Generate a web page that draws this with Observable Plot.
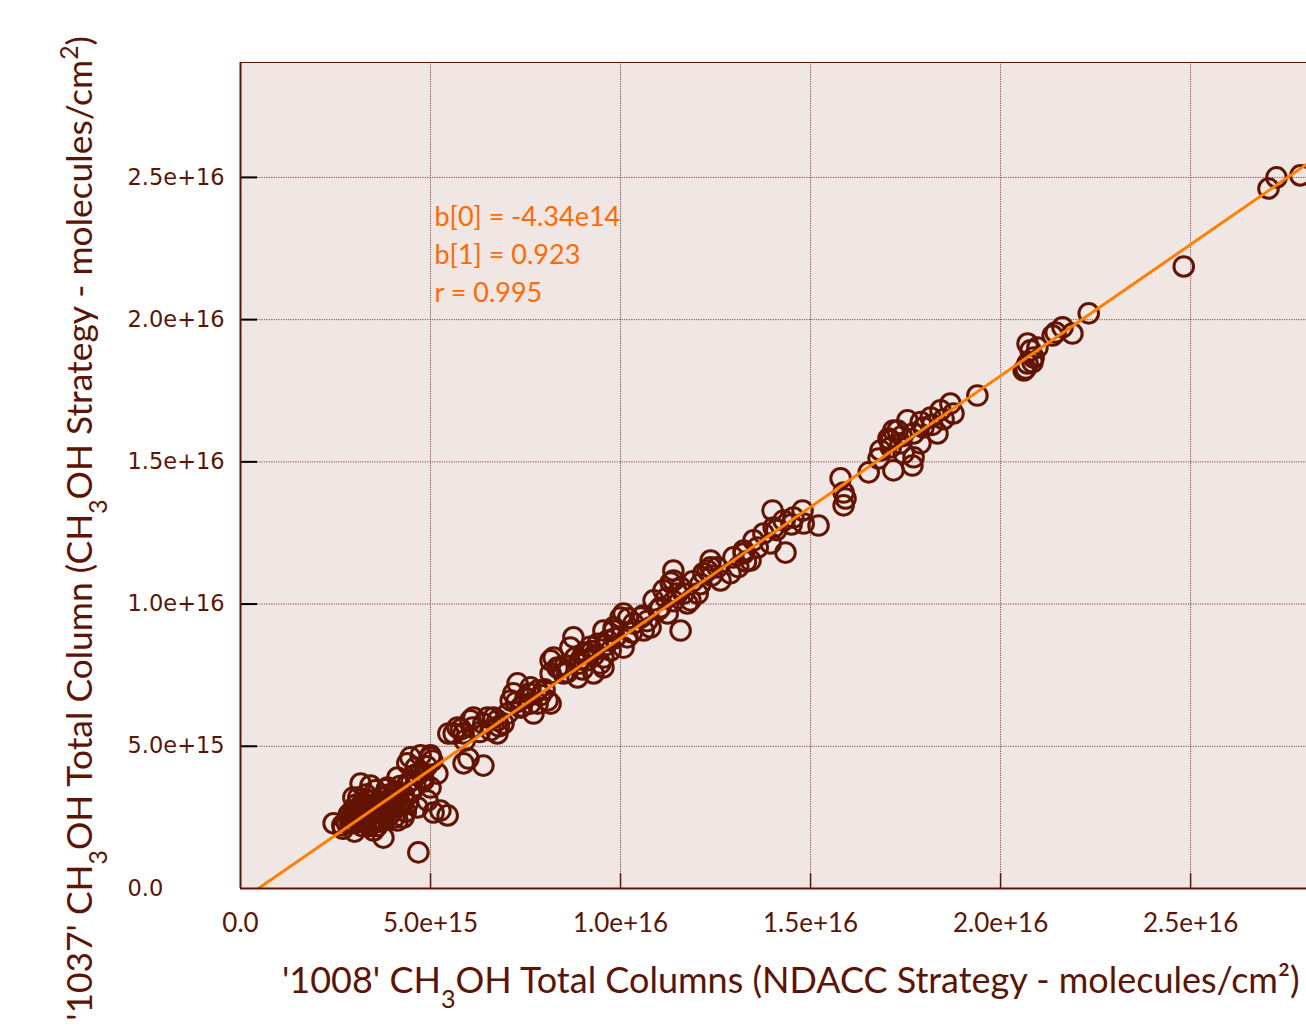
<!DOCTYPE html>
<html><head><meta charset="utf-8">
<script src="https://cdn.jsdelivr.net/npm/d3@7"></script>
<script src="https://cdn.jsdelivr.net/npm/@observablehq/plot@0.6"></script>
<style>
html,body{margin:0;padding:0;background:#fff;}
#chart{position:relative;width:1306px;height:1027px;overflow:hidden;}
#chart svg{display:block;}
</style></head><body><div id="chart"></div>
<script>
// Values in units of 1e15 molecules/cm² : [ '1008' NDACC column, '1037' CH3OH-strategy column ]
const UNIT = 1e15;
const xTicks = [0, 5e15, 1e16, 1.5e16, 2e16, 2.5e16];
const yTicks = [0, 5e15, 1e16, 1.5e16, 2e16, 2.5e16];
const xDomain = [0, 2.805e16];
const yDomain = [0, 2.904e16];
const fitB0 = -4.34e14;
const fitB1 = 0.923;
const fitLabels = ["b[0] = -4.34e14", "b[1] = 0.923", "r = 0.995"];

const lowCluster = [
 [2.45,2.29],[2.68,2.22],[3.16,3.69],[3.42,3.62],[4.13,3.90],[4.47,4.61],[4.74,4.68],[5.0,4.68],[4.61,4.25],[5.18,4.04],
 [5.0,3.55],[5.26,2.74],[5.45,2.57],[5.08,2.67],[3.76,1.79],[4.68,1.27],[2.97,3.20],[2.89,2.29],[3.61,2.85],[4.03,3.09],
 [4.29,2.50],[4.47,3.34],[4.82,3.80],[3.87,3.55],[3.34,2.50],[3.50,2.04],[4.13,2.39],[4.66,2.85],[4.92,3.09],[4.39,4.40],
 [4.74,4.08],[2.8,2.3],[2.9,2.5],[3.0,2.6],[3.0,2.3],[3.1,2.8],[3.1,2.4],[3.2,2.6],[3.2,3.0],[3.3,2.7],
 [3.3,2.3],[3.4,2.9],[3.4,2.6],[3.5,3.1],[3.5,2.7],[3.6,2.9],[3.6,2.5],[3.7,3.2],[3.7,2.8],[3.8,3.0],
 [3.8,2.6],[3.9,3.3],[3.9,2.9],[4.0,3.1],[4.0,2.7],[4.1,3.4],[4.2,3.0],[4.2,3.6],[4.3,3.3],[4.4,3.7],
 [4.4,3.0],[4.5,3.8],[4.5,3.4],[4.6,4.0],[4.6,3.6],[2.7,2.1],[3.0,2.0],[3.2,2.2],[3.4,2.2],[3.6,2.2],
 [3.3,3.3],[3.1,3.2],[2.95,2.75],[3.55,3.45],[3.85,3.5],[3.75,2.4],[4.05,2.5],[4.35,2.7],[4.8,3.9],[4.9,4.3],[5.05,4.5],
 [3.05,2.45],[3.15,2.65],[3.25,2.85],[3.35,2.45],[3.45,2.75],[3.55,2.95],[3.65,2.65],[3.75,3.05],[3.85,2.75],[3.95,3.15],
 [4.05,2.85],[4.15,3.2],[4.25,2.9],[3.25,2.35],[3.45,2.35],[3.65,2.35],[3.9,2.55],[2.85,2.6],[3.05,2.95],[3.35,3.1]
];
const midCluster = [
 [5.61,5.45],[5.47,5.45],[5.87,5.45],[6.13,6.01],[6.11,5.66],[6.39,5.80],[6.66,6.01],[6.58,5.56],[6.92,5.80],[6.76,5.45],
 [5.87,4.40],[6.0,4.57],[6.39,4.32],[7.18,6.86],[7.11,6.61],[7.37,6.36],[7.29,7.21],[7.63,7.07],[7.82,6.50],[8.08,6.61],
 [7.71,6.15],[8.16,8.02],[8.34,7.77],[8.16,7.56],[8.5,7.56],[8.87,7.42],[9.29,7.56],[9.55,7.77],[8.68,8.47],[9.03,8.26],
 [9.74,8.37],[10.08,8.47],[5.0,4.61],[5.71,5.66],[6.05,5.91],[6.76,5.91],[6.5,6.01],[7.03,6.15],[7.63,6.50],[7.82,6.96],
 [8.16,6.50],[8.24,8.12],[8.42,7.77],[8.76,8.83],[9.13,8.02],[9.47,7.91],[9.55,9.07],[9.82,9.18],[10.08,9.67],[10.18,8.83],
 [10.34,9.32],[10.53,9.53],[10.79,9.18],[10.87,10.13],[11.13,10.48],[11.39,11.18],[11.39,10.83],[11.66,10.37],[11.58,9.07],[11.84,10.13],
 [12.18,11.08],[12.37,11.29],[11.05,9.88],[11.24,9.67],[11.32,10.76],[11.58,10.58],[11.5,10.37],[11.76,10.02],[12.03,10.37],[12.29,11.18],
 [12.37,11.53],[12.55,11.29],[12.63,10.83],[12.89,11.08],[12.97,11.64],[13.24,11.78],[13.42,11.53],[13.61,11.99],[13.95,12.13],[14.34,11.81],
 [10.0,9.53],[9.82,9.07],[9.66,8.72],[9.55,8.12],[10.61,9.07],[8.6,7.6],[8.9,7.9],[9.1,8.3],[9.3,8.2],[9.4,8.6],
 [8.8,8.1],[9.0,7.7],[9.2,8.5],[10.3,9.0],[10.2,9.5],[10.6,9.6],[10.7,9.4],[11.0,9.8],[11.2,10.2],[11.4,10.1],
 [11.9,10.8],[12.1,10.7],[12.4,11.0],[13.1,11.3],[13.3,11.5],[7.4,6.4],[7.5,6.7],[7.9,6.8],[8.0,7.0],[6.8,5.7],
 [6.3,5.5],[5.9,5.2],[5.8,5.6],[8.95,8.05],[9.25,8.35],[9.6,8.55],[8.55,7.85],[9.85,8.8],[7.25,6.55],[7.6,6.85]
];
const upperCluster = [
 [13.24,11.88],[13.5,12.24],[13.76,12.48],[14.03,12.69],[14.0,13.29],[14.29,12.94],[14.55,13.04],[14.79,13.29],[14.82,12.83],[15.21,12.76],
 [15.79,14.42],[15.87,13.92],[15.92,13.71],[15.87,13.47],[16.53,14.63],[16.79,15.12],[17.11,15.51],[17.05,15.82],[17.18,14.70],[17.45,15.30],
 [17.68,14.87],[17.29,16.10],[17.55,16.46],[17.71,16.0],[17.89,15.65],[17.97,16.21],[18.16,16.56],[18.34,16.0],[18.42,16.81],[18.68,17.05],
 [18.76,16.70],[19.39,17.33],[17.18,16.10],[17.11,15.75],[17.37,15.65],[17.71,15.16],[16.84,15.40],[14.1,12.6],[14.5,12.8],[17.9,16.4],
 [18.2,16.3],[18.5,16.5],[17.4,15.9]
];
const highCluster = [
 [20.71,19.16],[20.79,18.92],[20.87,18.67],[20.71,18.46],[20.61,18.21],[20.97,19.02],[21.45,19.55],[21.63,19.73],[21.89,19.51],[22.32,20.22],
 [24.82,21.87],[27.05,24.61],[27.26,25.0],[27.89,25.07],[21.37,19.44],[20.66,18.28],[20.84,18.5]
];

const points = [...lowCluster, ...midCluster, ...upperCluster, ...highCluster]
  .map(([a, b]) => ({x: a * UNIT, y: b * UNIT}));
const fitLine = [-fitB0 / fitB1, xDomain[1]].map(x => ({x, y: fitB0 + fitB1 * x}));
const fmt = d => d === 0 ? "0.0" : d3.format(".1e")(d);

const W = 1306, H = 1027, ML = 240, MR = 0, MT = 62, MB = 139;
const FW = W - ML - MR, FH = H - MT - MB;
const brown = "#5c1505";
const gridStyle = {stroke: "#6e2a2a", strokeOpacity: 0.85, strokeDasharray: "1.2,1.2", strokeWidth: 1};

const svg = Plot.plot({
  width: W, height: H,
  marginLeft: ML, marginRight: MR, marginTop: MT, marginBottom: MB,
  x: {domain: xDomain, axis: null},
  y: {domain: yDomain, axis: null},
  style: {background: "transparent", overflow: "visible"},
  marks: [
    Plot.frame({fill: "#f0e6e4", stroke: null}),
    Plot.ruleX(xTicks.slice(1), gridStyle),
    Plot.ruleY(yTicks.slice(1), gridStyle),
    Plot.ruleX(xTicks.slice(1), {stroke: brown, strokeWidth: 1.5, insetTop: FH - 15}),
    Plot.ruleY(yTicks.slice(1), {stroke: "#000", strokeWidth: 2, insetRight: FW - 17}),
    Plot.dot(points, {x: "x", y: "y", r: 9.8, stroke: "#621400", strokeWidth: 3, fill: "none"}),
    Plot.line(fitLine, {x: "x", y: "y", stroke: "#ff8000", strokeWidth: 3, clip: true}),
    Plot.ruleX([0], {stroke: brown, strokeWidth: 2}),
    Plot.ruleY([0], {stroke: brown, strokeWidth: 2}),
    Plot.ruleY([yDomain[1]], {stroke: brown, strokeWidth: 1.2}),
    Plot.text([fitLabels.join("\n")], {
      frameAnchor: "top-left", dx: 194, dy: 137, lineAnchor: "top", lineHeight: 1.4,
      textAnchor: "start", fill: "#ff6a00", fontSize: 27, fontFamily: "Lato"
    }),
    Plot.text(yTicks, {
      y: d => d, text: fmt, frameAnchor: "left", dx: -113, textAnchor: "start",
      fill: brown, fontSize: 22.5, fontFamily: "DejaVu Sans"
    }),
    Plot.text(xTicks, {
      x: d => d, text: fmt, frameAnchor: "bottom", dy: 35, lineAnchor: "middle",
      fill: brown, fontSize: 26, fontFamily: "Lato"
    })
  ]
});
document.getElementById("chart").appendChild(svg);

// Axis titles with sub/superscripts
const s = d3.select(svg);
function addTitle(parts, attrs) {
  const t = s.append("text").attr("fill", brown).attr("font-family", "Lato").attr("font-size", 34);
  for (const [k, v] of Object.entries(attrs)) t.attr(k, v);
  for (const [txt, kind] of parts) {
    const sp = t.append("tspan").text(txt);
    if (kind === "sub") sp.attr("baseline-shift", "sub").attr("font-size", "70%");
    if (kind === "sup") sp.attr("baseline-shift", "super").attr("font-size", "70%");
  }
  return t;
}
function fit(t, target) {
  const len = t.node().getComputedTextLength();
  if (len > 0) t.attr("font-size", 34 * target / len);
}
const xt = addTitle([["'1008' CH"], ["3", "sub"], ["OH Total Columns (NDACC Strategy - molecules/cm²)"]],
  {x: 282, y: 993, "text-anchor": "start"});
fit(xt, 1018);
const yt = addTitle([["'1037' CH"], ["3", "sub"], ["OH Total Column (CH"], ["3", "sub"], ["OH Strategy - molecules/cm"], ["2", "sup"], [")"]],
  {transform: "translate(92,36) rotate(-90)", "text-anchor": "end"});
fit(yt, 985);
</script></body></html>
